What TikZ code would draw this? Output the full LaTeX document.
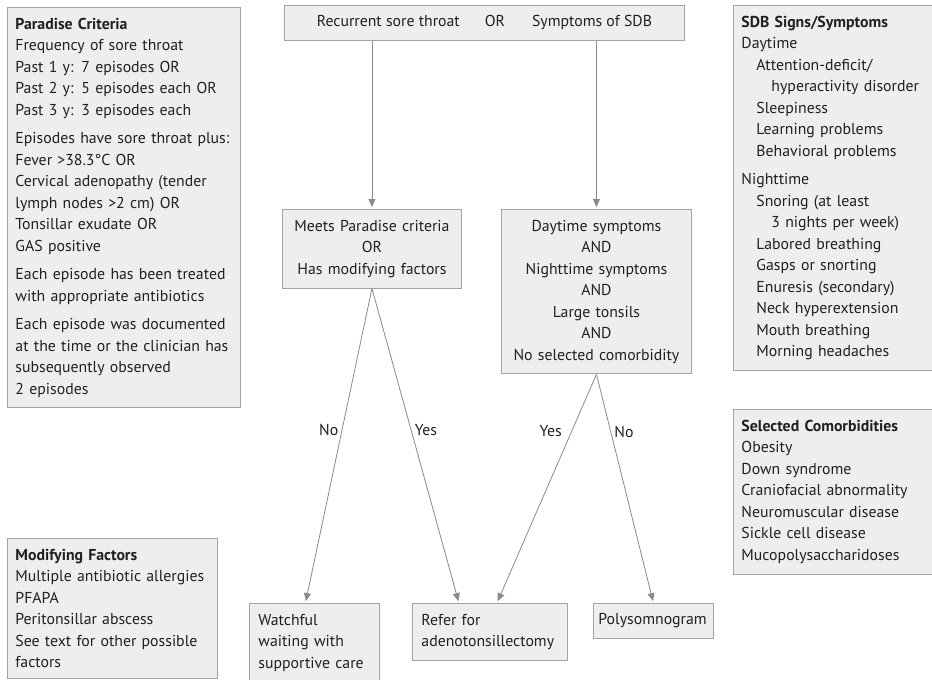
\documentclass[tikz,border=0pt]{standalone}
\usepackage{fontspec}
\setmainfont{PT Sans}
\usetikzlibrary{positioning}
\usetikzlibrary{arrows.meta}
\definecolor{boxgray}{HTML}{EEEEEE}
\definecolor{edgegray}{HTML}{A3A3A3}
\definecolor{linegray}{HTML}{8A8A8A}
\definecolor{inkgray}{HTML}{231F20}

\begin{document}
\hyphenpenalty=10000
\exhyphenpenalty=10000
\begin{tikzpicture}[x=1pt,y=-1pt,
						every node/.style={font=\fontsize{15.8}{21.5}\selectfont, text=inkgray},
						infobox/.style={draw=edgegray, fill=boxgray, line width=0.9pt, anchor=north west, align=left, inner xsep=8pt, inner ysep=10.5pt},
						flowbox/.style={draw=edgegray, fill=boxgray, line width=0.9pt, anchor=north west, inner xsep=9pt, inner ysep=10.5pt},
						flowline/.style={draw=linegray, line width=0.8pt, shorten >=2pt, -{Triangle[width=7pt,length=8pt]}},
						]
						\useasboundingbox (0,0) rectangle (932,680);
						%Side boxes
						\node[infobox, text width=217pt] (paradise) at (7,7) {\textbf{Paradise Criteria}\\ Frequency of sore throat\\ Past 1 y: 7 episodes OR\\ Past 2 y: 5 episodes each OR\\ Past 3 y: 3 episodes each\\[7pt]
							Episodes have sore throat plus:\\ Fever >38.3°C OR\\ Cervical adenopathy (tender\\ lymph nodes >2 cm) OR\\ Tonsillar exudate OR\\ GAS positive\\[7pt]
							Each episode has been treated\\ with appropriate antibiotics\\[7pt]
							Each episode was documented\\ at the time or the clinician has\\ subsequently observed\\ 2 episodes};
						\node[infobox, text width=194pt] (modifying) at (7,538) {\textbf{Modifying Factors}\\ Multiple antibiotic allergies\\ PFAPA\\ Peritonsillar abscess\\ See text for other possible\\ factors};
						\node[infobox, text width=197pt] (sdbsigns) at (733,5) {\textbf{SDB Signs/Symptoms}\\ Daytime\\ \hspace*{15pt}Attention-deficit/\\ \hspace*{30pt}hyperactivity disorder\\ \hspace*{15pt}Sleepiness\\ \hspace*{15pt}Learning problems\\ \hspace*{15pt}Behavioral problems\\[7pt]
							Nighttime\\ \hspace*{15pt}Snoring (at least\\ \hspace*{30pt}3 nights per week)\\ \hspace*{15pt}Labored breathing\\ \hspace*{15pt}Gasps or snorting\\ \hspace*{15pt}Enuresis (secondary)\\ \hspace*{15pt}Neck hyperextension\\ \hspace*{15pt}Mouth breathing\\ \hspace*{15pt}Morning headaches};
						\node[infobox, text width=197pt] (comorbid) at (733,409) {\textbf{Selected Comorbidities}\\ Obesity\\ Down syndrome\\ Craniofacial abnormality\\ Neuromuscular disease\\ Sickle cell disease\\ Mucopolysaccharidoses};
						%Flow boxes
						\node[flowbox, minimum width=400pt, minimum height=35pt, inner ysep=0pt] (start) at (284,5) {Recurrent sore throat\hspace{25pt}OR\hspace{27pt}Symptoms of SDB};
						\node[flowbox, text width=161pt, align=center] (paradiseq) at (282,209) {Meets Paradise criteria\\ OR\\ Has modifying factors};
						\node[flowbox, text width=172pt, align=center] (sdbq) at (501,209) {Daytime symptoms\\ AND\\ Nighttime symptoms\\ AND\\ Large tonsils\\ AND\\ No selected comorbidity};
						\node[flowbox, text width=112pt, align=left] (watch) at (249,603) {Watchful\\ waiting with\\ supportive care};
						\node[flowbox, text width=137pt, align=left] (refer) at (412,603) {Refer for\\ adenotonsillectomy};
						\node[flowbox, text width=110pt, align=left, inner xsep=5pt, inner ysep=0pt, minimum height=35pt] (poly) at (593,603) {Polysomnogram};
						%Connectors
						\draw[flowline] (start.south -| paradiseq.north) -- (paradiseq.north);
						\draw[flowline] (start.south -| sdbq.north) -- (sdbq.north);
						\draw[flowline] (paradiseq.south) -- node[pos=0.45, left] {No} ([xshift=-9pt]watch.north);
						\draw[flowline] (paradiseq.south) -- node[pos=0.45, right] {Yes} ([xshift=-31pt]refer.north);
						\draw[flowline] (sdbq.south) -- node[pos=0.25, left, xshift=-6pt] {Yes} ([xshift=7pt]refer.north);
						\draw[flowline] (sdbq.south) -- node[pos=0.25, right] {No} (poly.north);
					\end{tikzpicture}
\end{document}
